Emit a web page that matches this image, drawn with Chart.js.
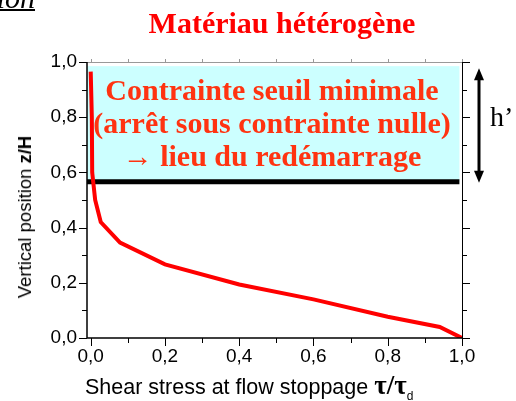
<!DOCTYPE html>
<html>
<head>
<meta charset="utf-8">
<script src="https://cdn.jsdelivr.net/npm/chart.js@4/dist/chart.umd.min.js"></script>
<style>
  body { margin: 0; background: #fff; }
  #wrap { position: relative; width: 516px; height: 401px; overflow: hidden; }
  canvas { position: absolute; left: 0; top: 0; }
  .txt { position: absolute; white-space: nowrap; }
  .serif { font-family: "Liberation Serif", "Times New Roman", serif; }
  .sans { font-family: "Liberation Sans", Arial, sans-serif; }
</style>
</head>
<body>
<div id="wrap">
  <canvas id="chart" width="516" height="401"></canvas>
  <div class="txt serif" style="left:35px; top:-17px; font-size:30px; line-height:30px; font-style:italic; text-decoration:underline; text-decoration-thickness:2px; transform:translateX(-100%);">ation</div>
  <div class="txt serif" style="left:282px; top:8px; font-size:30px; line-height:30px; font-weight:bold; color:#ff0000; transform:translateX(-50%);">Matériau hétérogène</div>
  <div class="txt serif" style="left:272px; top:73px; font-size:30px; line-height:33px; font-weight:bold; color:#ff3311; text-align:center; transform:translateX(-50%);">Contrainte seuil minimale<br>(arrêt sous contrainte nulle)<br>→ lieu du redémarrage</div>
  <div class="txt serif" style="left:490px; top:103px; font-size:28px; line-height:28px;">h’</div>
  <div class="txt sans" style="left:85px; top:374px; font-size:21.5px; line-height:22px;">Shear stress at flow stoppage <span class="serif" style="font-weight:bold; font-size:27px;">τ/τ</span><span style="font-size:12px; position:relative; top:6px;">d</span></div>
  <div class="txt sans" style="left:25px; top:217px; font-size:18.5px; line-height:18px; transform:translate(-50%,-50%) rotate(-90deg);">Vertical position <b>z/H</b></div>
</div>
<script>
// red profile: shear stress at stoppage vs vertical position
const tauValues = [0, 0.003, 0.004, 0.012, 0.027, 0.079, 0.2, 0.4, 0.6, 0.8, 0.94, 1.0];
const zValues = [0.965, 0.8, 0.6, 0.5, 0.42, 0.346, 0.267, 0.194, 0.14, 0.077, 0.04, 0.0];

const xTickValues = [0, 0.2, 0.4, 0.6, 0.8, 1.0];
const xTickLabels = ['0,0', '0,2', '0,4', '0,6', '0,8', '1,0'];
const yTickValues = [0, 0.2, 0.4, 0.6, 0.8, 1.0];
const yTickLabels = ['0,0', '0,2', '0,4', '0,6', '0,8', '1,0'];
const minorTickValues = [0.1, 0.3, 0.5, 0.7, 0.9];

// restart zone (cyan box) limits
const boxBottom = 0.566;
const boxTop = 0.985;
const boxRight = 0.993;

const decoPlugin = {
  id: 'deco',
  beforeDatasetsDraw(chart) {
    const { ctx, chartArea: a, scales: { x, y } } = chart;
    const yb = y.getPixelForValue(boxBottom);
    const yt = y.getPixelForValue(boxTop);
    const xr = x.getPixelForValue(boxRight);
    ctx.save();
    ctx.fillStyle = '#ccffff';
    ctx.fillRect(a.left, yt, xr - a.left, yb - yt);
    ctx.strokeStyle = '#000';
    ctx.lineWidth = 5;
    ctx.beginPath();
    ctx.moveTo(a.left, yb);
    ctx.lineTo(xr, yb);
    ctx.stroke();
    ctx.restore();
  },
  afterDraw(chart) {
    const { ctx, chartArea: a, scales: { x, y } } = chart;
    ctx.save();
    // frame
    ctx.strokeStyle = '#999';
    ctx.lineWidth = 1;
    ctx.beginPath();
    ctx.moveTo(a.left, a.top + 0.5);
    ctx.lineTo(a.right, a.top + 0.5);
    ctx.stroke();
    ctx.strokeStyle = '#000';
    ctx.beginPath();
    ctx.moveTo(a.right + 0.5, a.top);
    ctx.lineTo(a.right + 0.5, a.bottom);
    ctx.stroke();
    ctx.lineWidth = 1.5;
    ctx.beginPath();
    ctx.moveTo(a.left, a.top);
    ctx.lineTo(a.left, a.bottom);
    ctx.lineTo(a.right, a.bottom);
    ctx.stroke();

    // ticks
    ctx.lineWidth = 1;
    const tick = (vals, len) => {
      vals.forEach(v => {
        const py = Math.round(y.getPixelForValue(v)) + 0.5;
        const px = Math.round(x.getPixelForValue(v)) + 0.5;
        ctx.beginPath();
        ctx.moveTo(a.left - len, py); ctx.lineTo(a.left, py);
        ctx.moveTo(a.right, py); ctx.lineTo(a.right + len, py);
        ctx.moveTo(px, a.bottom); ctx.lineTo(px, a.bottom + len);
        ctx.stroke();
      });
    };
    tick(yTickValues, 8);
    tick(minorTickValues, 5);
    ctx.strokeStyle = '#999';
    xTickValues.concat(minorTickValues).forEach(v => {
      const px = Math.round(x.getPixelForValue(v)) + 0.5;
      ctx.beginPath();
      ctx.moveTo(px, a.top); ctx.lineTo(px, a.top - 3);
      ctx.stroke();
    });

    // double arrow h'
    const ax = a.right + 17;
    const y1 = y.getPixelForValue(boxTop) + 2;
    const y2 = y.getPixelForValue(boxBottom) + 1;
    ctx.fillStyle = '#000';
    ctx.strokeStyle = '#000';
    ctx.lineWidth = 3;
    ctx.beginPath();
    ctx.moveTo(ax, y1 + 8);
    ctx.lineTo(ax, y2 - 8);
    ctx.stroke();
    ctx.beginPath();
    ctx.moveTo(ax, y1); ctx.lineTo(ax - 5, y1 + 12); ctx.lineTo(ax + 5, y1 + 12); ctx.closePath();
    ctx.fill();
    ctx.beginPath();
    ctx.moveTo(ax, y2); ctx.lineTo(ax - 5, y2 - 12); ctx.lineTo(ax + 5, y2 - 12); ctx.closePath();
    ctx.fill();
    ctx.restore();
  }
};

const ctx = document.getElementById('chart').getContext('2d');
const chart = new Chart(ctx, {
  type: 'line',
  data: {
    datasets: [{
      data: tauValues.map((t, i) => ({ x: t, y: zValues[i] })),
      borderColor: '#ff0000',
      borderWidth: 4,
      pointRadius: 0,
      tension: 0,
      fill: false
    }]
  },
  options: {
    responsive: false,
    animation: false,
    layout: { padding: { top: 62, right: 54, left: 0, bottom: 0 } },
    plugins: { legend: { display: false }, tooltip: { enabled: false } },
    scales: {
      x: {
        type: 'linear',
        min: -0.01,
        max: 1.0,
        grid: { display: false, drawTicks: false },
        border: { display: false },
        afterBuildTicks: s => { s.ticks = xTickValues.map(v => ({ value: v })); },
        afterFit: s => { s.height = 63; },
        ticks: {
          padding: 7,
          color: '#000',
          font: { family: 'Liberation Sans', size: 19 },
          callback: (v, i) => xTickLabels[i]
        }
      },
      y: {
        type: 'linear',
        min: 0,
        max: 1.0,
        grid: { display: false, drawTicks: false },
        border: { display: false },
        afterBuildTicks: s => { s.ticks = yTickValues.map(v => ({ value: v })); },
        afterFit: s => { s.width = 87; },
        ticks: {
          padding: 10,
          color: '#000',
          font: { family: 'Liberation Sans', size: 19 },
          callback: (v, i) => yTickLabels[i]
        }
      }
    }
  },
  plugins: [decoPlugin]
});
</script>
</body>
</html>
